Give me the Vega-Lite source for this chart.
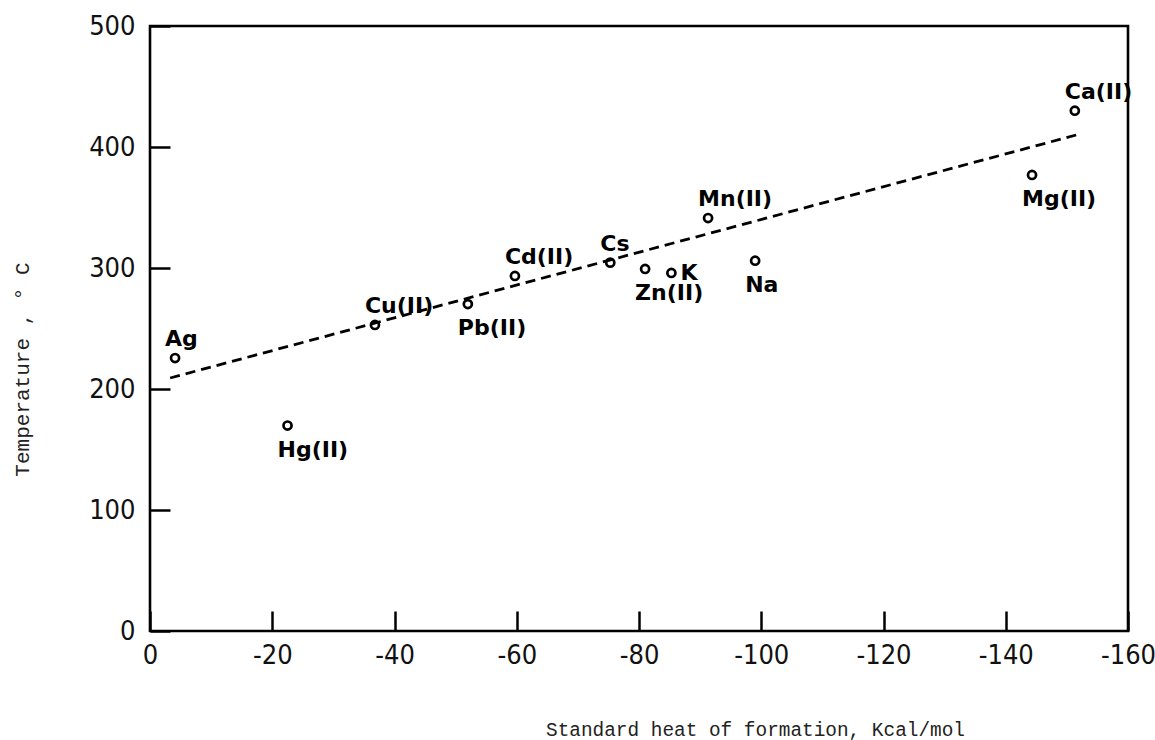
{
  "$schema": "https://vega.github.io/schema/vega-lite/v6.json",
  "autosize": {"type": "none"},
  "padding": {"left": 150, "top": 26, "right": 27, "bottom": 109},
  "width": 978,
  "height": 605,
  "background": "white",
  "config": {
    "view": {"stroke": "black", "strokeWidth": 2.6},
    "axis": {"grid": false, "domain": false}
  },
  "datasets": {
    "pts": [
      {"name": "Ag", "dH": -4.1, "T": 225.6, "pos": "above"},
      {"name": "Hg(II)", "dH": -22.5, "T": 169.8, "pos": "below"},
      {"name": "Cu(II)", "dH": -36.8, "T": 252.9, "pos": "above"},
      {"name": "Pb(II)", "dH": -52.0, "T": 270.2, "pos": "below"},
      {"name": "Cd(II)", "dH": -59.7, "T": 293.4, "pos": "above"},
      {"name": "Cs", "dH": -75.3, "T": 304.4, "pos": "above"},
      {"name": "Zn(II)", "dH": -81.0, "T": 299.2, "pos": "below"},
      {"name": "K", "dH": -85.3, "T": 295.9, "pos": "right"},
      {"name": "Na", "dH": -99.0, "T": 306.0, "pos": "below"},
      {"name": "Mn(II)", "dH": -91.3, "T": 341.3, "pos": "above"},
      {"name": "Mg(II)", "dH": -144.3, "T": 376.9, "pos": "below"},
      {"name": "Ca(II)", "dH": -151.3, "T": 430.0, "pos": "above"}
    ],
    "fit": [
      {"dH": -3.3, "T": 209.1},
      {"dH": -152.1, "T": 410.7}
    ]
  },
  "layer": [
    {
      "data": {"name": "fit"},
      "mark": {"type": "line", "color": "black", "strokeWidth": 2.8, "strokeDash": [10, 6]},
      "encoding": {
        "x": {
          "field": "dH", "type": "quantitative",
          "scale": {"domain": [0, -160], "nice": false, "zero": false},
          "axis": {
            "values": [0, -20, -40, -60, -80, -100, -120, -140, -160],
            "labelExpr": "'' + datum.value",
            "tickSize": -20, "tickWidth": 2.5, "tickColor": "black",
            "labelPadding": 31, "labelFlush": false, "labelOverlap": false,
            "labelFont": "DejaVu Sans Condensed, sans-serif",
            "labelFontSize": 27, "labelColor": "#111",
            "title": "Standard heat of formation, Kcal/mol",
            "titleFont": "Liberation Mono, DejaVu Sans Mono, monospace",
            "titleFontSize": 19.4, "titleFontWeight": "normal", "titleColor": "#222",
            "titleX": 605, "titleY": 104, "titleAlign": "center", "titleBaseline": "alphabetic", "titleAnchor": null
          }
        },
        "y": {
          "field": "T", "type": "quantitative",
          "scale": {"domain": [0, 500], "nice": false, "zero": false},
          "axis": {
            "values": [0, 100, 200, 300, 400, 500],
            "tickSize": -20, "tickWidth": 2.5, "tickColor": "black",
            "labelPadding": 35, "labelFlush": false, "labelOverlap": false,
            "labelFont": "DejaVu Sans Condensed, sans-serif",
            "labelFontSize": 27, "labelColor": "#111",
            "title": "Temperature ,  ° C",
            "titleFont": "Liberation Mono, DejaVu Sans Mono, monospace",
            "titleFontSize": 21, "titleFontWeight": "normal", "titleColor": "#222",
            "titleAngle": -90, "titleX": -122, "titleY": 343, "titleAlign": "center", "titleBaseline": "alphabetic", "titleAnchor": null
          }
        }
      }
    },
    {
      "data": {"name": "pts"},
      "mark": {"type": "point", "shape": "circle", "filled": false, "color": "black", "strokeWidth": 2.7, "size": 65, "opacity": 1},
      "encoding": {
        "x": {"field": "dH", "type": "quantitative"},
        "y": {"field": "T", "type": "quantitative"}
      }
    },
    {
      "data": {"name": "pts"},
      "transform": [{"filter": "datum.pos === 'above'"}],
      "mark": {"type": "text", "align": "left", "baseline": "alphabetic", "dx": -10, "dy": -12, "font": "DejaVu Sans", "fontWeight": "bold", "fontSize": 22, "color": "black"},
      "encoding": {
        "x": {"field": "dH", "type": "quantitative"},
        "y": {"field": "T", "type": "quantitative"},
        "text": {"field": "name"}
      }
    },
    {
      "data": {"name": "pts"},
      "transform": [{"filter": "datum.pos === 'below'"}],
      "mark": {"type": "text", "align": "left", "baseline": "top", "dx": -10, "dy": 14, "font": "DejaVu Sans", "fontWeight": "bold", "fontSize": 22, "color": "black"},
      "encoding": {
        "x": {"field": "dH", "type": "quantitative"},
        "y": {"field": "T", "type": "quantitative"},
        "text": {"field": "name"}
      }
    },
    {
      "data": {"name": "pts"},
      "transform": [{"filter": "datum.pos === 'right'"}],
      "mark": {"type": "text", "align": "left", "baseline": "middle", "dx": 9, "dy": 0, "font": "DejaVu Sans", "fontWeight": "bold", "fontSize": 22, "color": "black"},
      "encoding": {
        "x": {"field": "dH", "type": "quantitative"},
        "y": {"field": "T", "type": "quantitative"},
        "text": {"field": "name"}
      }
    }
  ]
}
